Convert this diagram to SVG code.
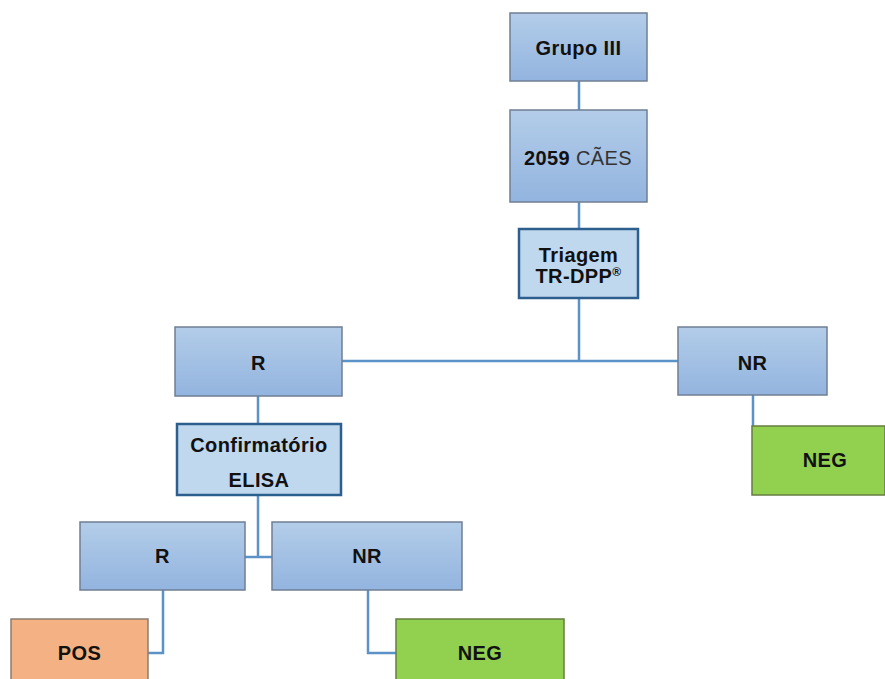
<svg xmlns="http://www.w3.org/2000/svg" width="885" height="679" viewBox="0 0 885 679">
<defs>
<linearGradient id="blue" x1="0" y1="0" x2="0" y2="1">
<stop offset="0" stop-color="#b3cde9"/>
<stop offset="1" stop-color="#93b4df"/>
</linearGradient>
<style>
.b{fill:url(#blue);stroke:#6f7f94;stroke-width:1.5}
.t{fill:#c0d8ee;stroke:#2d5f8e;stroke-width:2.5}
.g{fill:#92d050;stroke:#667e40;stroke-width:1.5}
.o{fill:#f4b183;stroke:#8a7d73;stroke-width:1.5}
.c{fill:none;stroke:#5b93c9;stroke-width:2.5}
text{font-family:"Liberation Sans",Arial,sans-serif;font-size:20px;font-weight:bold;fill:#111;text-anchor:middle;letter-spacing:0.4px}
.n{font-weight:normal;fill:#333}
</style>
</defs>
<rect width="885" height="679" fill="#fff"/>
<g id="connectors">
<line class="c" x1="579" y1="81" x2="579" y2="110"/>
<line class="c" x1="579" y1="202" x2="579" y2="228"/>
<polyline class="c" points="579,298 579,361"/>
<line class="c" x1="342" y1="361" x2="679" y2="361"/>
<line class="c" x1="258" y1="396" x2="258" y2="423"/>
<line class="c" x1="753" y1="395" x2="753" y2="427"/>
<polyline class="c" points="258,495 258,557"/>
<line class="c" x1="245" y1="557" x2="272" y2="557"/>
<polyline class="c" points="163,590 163,653 148,653"/>
<polyline class="c" points="368,590 368,653 396,653"/>
</g>
<g id="grupo"><rect class="b" x="510" y="13" width="137" height="68"/><text x="578.5" y="55">Grupo III</text></g>
<g id="caes"><rect class="b" x="510" y="110" width="137" height="92"/><text x="578" y="165">2059<tspan class="n"> CÃES</tspan></text></g>
<g id="triagem"><rect class="t" x="519" y="229" width="119" height="69"/><text x="578.5" y="262">Triagem</text><text x="578.5" y="283">TR-DPP<tspan font-size="12" dy="-7">®</tspan></text></g>
<g id="r1"><rect class="b" x="175" y="327" width="167" height="69"/><text x="258.5" y="370">R</text></g>
<g id="nr1"><rect class="b" x="678" y="327" width="149" height="68"/><text x="752.5" y="370">NR</text></g>
<g id="neg1"><rect class="g" x="752" y="426" width="133" height="69"/><text x="825" y="467">NEG</text></g>
<g id="confirm"><rect class="t" x="177" y="424" width="164" height="71"/><text x="259" y="452" letter-spacing="0.8">Confirmatório</text><text x="259" y="487">ELISA</text></g>
<g id="r2"><rect class="b" x="80" y="522" width="165" height="68"/><text x="162.5" y="563">R</text></g>
<g id="nr2"><rect class="b" x="272" y="522" width="190" height="68"/><text x="367" y="563">NR</text></g>
<g id="pos"><rect class="o" x="11" y="619" width="137" height="65"/><text x="79.5" y="660">POS</text></g>
<g id="neg2"><rect class="g" x="396" y="619" width="168" height="65"/><text x="480" y="660">NEG</text></g>
</svg>
